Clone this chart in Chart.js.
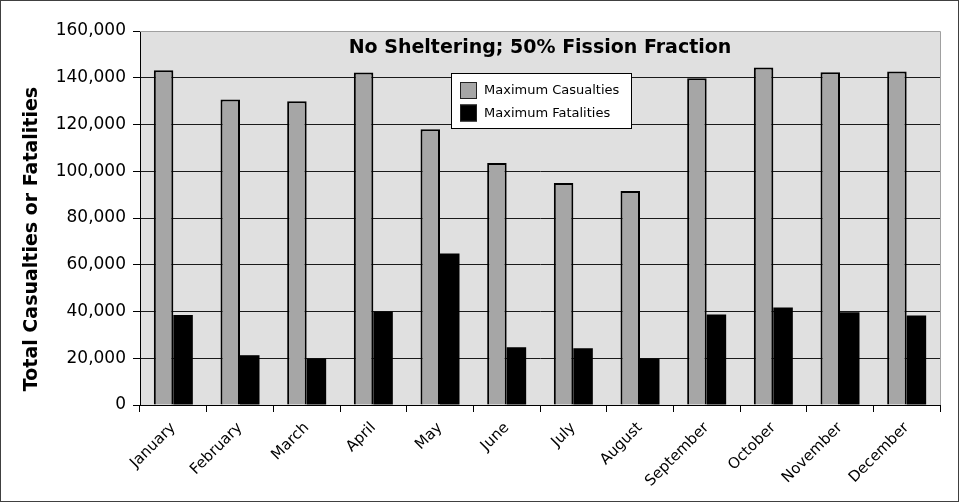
<!DOCTYPE html>
<html>
<head>
<meta charset="utf-8">
<script src="https://cdn.jsdelivr.net/npm/chart.js@4.4.1/dist/chart.umd.min.js"></script>
<style>
    body { margin: 0; background: #ffffff; }
    #frame {
        width: 959px; height: 502px; box-sizing: border-box;
        border: 1px solid #404040; position: relative; background: #ffffff;
    }
    #frame canvas { display: block; }
</style>
</head>
<body>
<div id="frame"><canvas id="casualtyChart" width="957" height="500"></canvas></div>
<script>
// ==================== DATA ====================
const months = ['January', 'February', 'March', 'April', 'May', 'June',
                'July', 'August', 'September', 'October', 'November', 'December'];
const maxCasualties = [143200, 130700, 130000, 142200, 118000, 103500,
                       95000, 91500, 139800, 144400, 142400, 142700];
const maxFatalities = [38500, 21300, 19900, 40000, 64800, 24700,
                       24300, 19900, 38700, 41700, 39700, 38300];
const yTicks = [0, 20000, 40000, 60000, 80000, 100000, 120000, 140000, 160000];
const chartTitle = 'No Sheltering; 50% Fission Fraction';
const yTitle = 'Total Casualties or Fatalities';

// ==================== PLUGINS ====================
// Gray plot background plus gray top/right edge
const plotBackground = {
    id: 'plotBackground',
    beforeDraw(chart) {
        const { ctx, chartArea: a } = chart;
        ctx.save();
        ctx.fillStyle = '#e0e0e0';
        ctx.fillRect(a.left, a.top, a.right - a.left, a.bottom - a.top);
        ctx.restore();
    },
    afterDraw(chart) {
        const { ctx, chartArea: a } = chart;
        ctx.save();
        ctx.strokeStyle = '#a0a0a0';
        ctx.lineWidth = 1;
        ctx.beginPath();
        ctx.moveTo(a.left, a.top + 0.5);
        ctx.lineTo(a.right + 0.5, a.top + 0.5);
        ctx.lineTo(a.right + 0.5, a.bottom);
        ctx.stroke();
        ctx.restore();
    }
};

// Title inside the plot, rotated axis title, boxed legend inside the plot
const overlayText = {
    id: 'overlayText',
    afterDraw(chart) {
        const { ctx, chartArea: a } = chart;
        ctx.save();
        ctx.fillStyle = '#000000';
        ctx.font = 'bold 19px "DejaVu Sans"';
        ctx.textAlign = 'center';
        ctx.textBaseline = 'middle';
        ctx.fillText(chartTitle, (a.left + a.right) / 2, 47);

        ctx.save();
        ctx.translate(31, 238);
        ctx.rotate(-Math.PI / 2);
        ctx.font = 'bold 19px "DejaVu Sans"';
        ctx.fillText(yTitle, 0, 0);
        ctx.restore();

        // legend box
        const lx = 450, ly = 72, lw = 181, lh = 56;
        ctx.fillStyle = '#ffffff';
        ctx.fillRect(lx, ly, lw, lh);
        ctx.strokeStyle = '#000000';
        ctx.lineWidth = 1;
        ctx.strokeRect(lx + 0.5, ly + 0.5, lw - 1, lh - 1);

        ctx.font = '13px "DejaVu Sans"';
        ctx.textAlign = 'left';
        chart.data.datasets.forEach((ds, i) => {
            const sy = ly + 9 + i * 22.5;
            ctx.fillStyle = ds.backgroundColor;
            ctx.fillRect(lx + 9, sy, 17, 17);
            ctx.strokeStyle = '#222222';
            ctx.strokeRect(lx + 9.5, sy + 0.5, 16, 16);
            ctx.fillStyle = '#000000';
            ctx.fillText(ds.label, lx + 33, sy + 9);
        });
        ctx.restore();
    }
};

// ==================== CHART ====================
const chartCtx = document.getElementById('casualtyChart').getContext('2d');
const casualtyChart = new Chart(chartCtx, {
    type: 'bar',
    data: {
        labels: months,
        datasets: [
            {
                label: 'Maximum Casualties',
                data: maxCasualties,
                backgroundColor: '#a6a6a6',
                borderColor: '#000000',
                borderWidth: 2,
                borderSkipped: 'bottom',
                barPercentage: 1,
                categoryPercentage: 0.585
            },
            {
                label: 'Maximum Fatalities',
                data: maxFatalities,
                backgroundColor: '#000000',
                borderColor: '#000000',
                borderWidth: 0,
                barPercentage: 1,
                categoryPercentage: 0.585
            }
        ]
    },
    options: {
        responsive: false,
        animation: false,
        layout: { padding: { top: 30, right: 18, left: 0, bottom: 0 } },
        plugins: {
            legend: { display: false },
            tooltip: { enabled: false }
        },
        scales: {
            y: {
                min: 0,
                max: 160000,
                afterBuildTicks: function(scale) {
                    scale.ticks = yTicks.map(v => ({ value: v }));
                },
                afterFit: function(scale) { scale.width = 139; },
                grid: {
                    color: function(c) { return c.tick && c.tick.value === 160000 ? '#a0a0a0' : '#1a1a1a'; },
                    tickColor: '#000000',
                    tickLength: 7,
                    lineWidth: 1
                },
                border: { color: '#000000', width: 1 },
                ticks: {
                    color: '#000000',
                    padding: 7,
                    font: { family: '"DejaVu Sans"', size: 17 },
                    callback: function(value) { return value.toLocaleString('en-US'); }
                }
            },
            x: {
                afterFit: function(scale) { scale.height = 96; },
                grid: {
                    offset: true,
                    drawOnChartArea: false,
                    tickColor: '#000000',
                    tickLength: 7
                },
                border: { color: '#000000', width: 1 },
                ticks: {
                    color: '#000000',
                    minRotation: 45,
                    maxRotation: 45,
                    padding: 7,
                    font: { family: '"DejaVu Sans"', size: 15 }
                }
            }
        }
    },
    plugins: [plotBackground, overlayText]
});
</script>
</body>
</html>
